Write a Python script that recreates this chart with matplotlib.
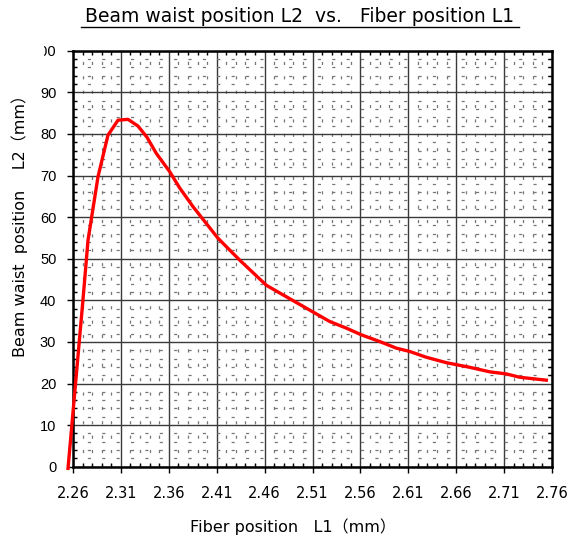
import matplotlib
matplotlib.use('Agg')
import matplotlib.pyplot as plt
from matplotlib.patches import Rectangle
import numpy as np

# 读图得到的数据点
fiber_L1 = [2.2548, 2.2704, 2.2757, 2.2861, 2.2965, 2.3070, 2.3174, 2.3278, 2.3372,
            2.3470, 2.3610, 2.3714, 2.3853, 2.4114, 2.4343, 2.4619, 2.4793, 2.5036,
            2.5280, 2.5454, 2.5610, 2.5800, 2.5975, 2.6115, 2.6289, 2.6498, 2.6740,
            2.6951, 2.7124, 2.7263, 2.7541]
waist_L2 = [-0.4, 40.1, 54.5, 69.7, 79.7, 83.3, 83.5, 81.9, 79.2,
            75.3, 70.9, 67.0, 62.5, 54.9, 49.6, 43.6, 41.3, 38.1,
            34.9, 33.3, 31.7, 30.1, 28.5, 27.7, 26.3, 25.0, 23.9,
            22.8, 22.3, 21.5, 20.8]

x_ticks = [2.26, 2.31, 2.36, 2.41, 2.46, 2.51, 2.56, 2.61, 2.66, 2.71, 2.76]
y_ticks = [0, 10, 20, 30, 40, 50, 60, 70, 80, 90, 100]

fam = ['DejaVu Sans', 'Noto Sans CJK JP']

fig = plt.figure(figsize=(5.8, 5.43), dpi=100)
ax = fig.add_axes([73 / 580, 1 - 466.7 / 543, 479 / 580, 416 / 543])

ax.plot(fiber_L1, waist_L2, color='red', lw=2.4, clip_on=False, zorder=5)

ax.set_xlim(2.26, 2.76)
ax.set_ylim(0, 100)
ax.set_xticks(x_ticks)
ax.set_xticklabels([f'{v:.2f}' for v in x_ticks], family=fam, fontsize=10.5)
ax.set_yticks(y_ticks)
ax.set_yticklabels([str(v) for v in y_ticks], family='Liberation Sans', fontsize=10.5)
ax.set_xticks(np.arange(2.26, 2.7601, 0.01), minor=True)
ax.set_yticks(np.arange(0, 100.1, 2), minor=True)

ax.tick_params(which='major', direction='out', length=4, width=1, pad=8)
ax.tick_params(axis='x', which='major', pad=10)
ax.tick_params(which='minor', direction='in', length=3, width=1,
               top=True, right=True)

ax.grid(which='major', color='#3a3a3a', lw=1)
ax.grid(which='minor', color='#777777', lw=0.9, linestyle=(0, (2.5, 9)))
ax.set_axisbelow(True)
for s in ax.spines.values():
    s.set_linewidth(1.8)

# 标题（带下划线）
fig.text(300 / 580, 1 - 17 / 543, 'Beam waist position L2  vs.   Fiber position L1',
         ha='center', va='center', fontsize=13.5, family=fam)
fig.add_artist(plt.Line2D([81 / 580, 519 / 580], [1 - 27 / 543, 1 - 27 / 543],
                          color='black', lw=1, transform=fig.transFigure))

fig.text(293 / 580, 1 - 527 / 543, 'Fiber position   L1（mm）',
         ha='center', va='center', fontsize=11.5, family=fam)
fig.text(20 / 580, 1 - 222 / 543, 'Beam waist  position    L2（mm）',
         ha='center', va='center', fontsize=11.5, family=fam, rotation=90)

# 最上面的刻度标签被截掉一部分
clip = Rectangle((44 / 580, 0), 1, 1, transform=fig.transFigure)
lab = ax.yaxis.get_major_ticks()[-1].label1
lab.set_clip_path(clip)
lab.set_clip_on(True)

fig.savefig('out.png', dpi=100)
